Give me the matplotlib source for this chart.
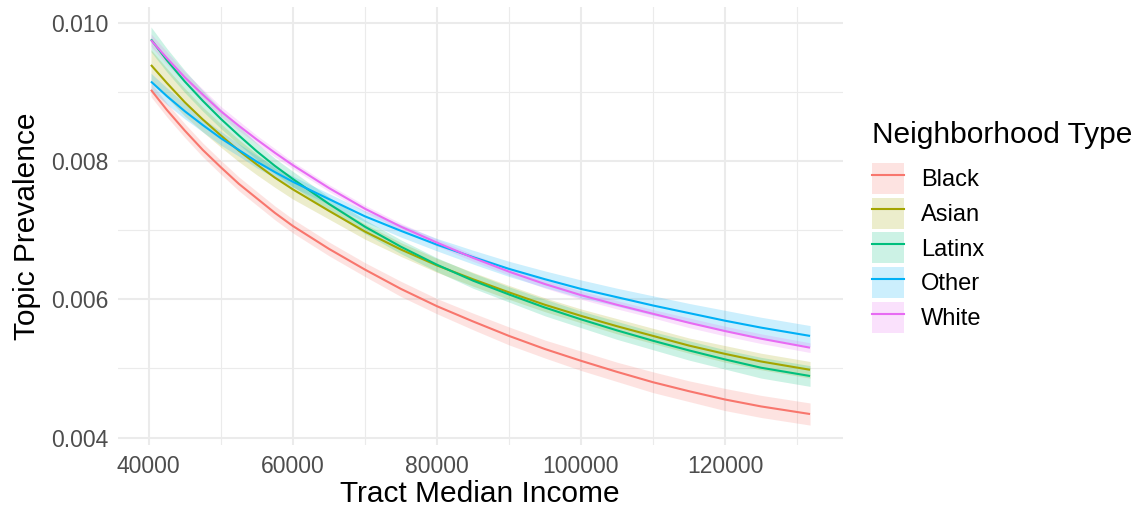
import numpy as np
import matplotlib
matplotlib.use('Agg')
import matplotlib.pyplot as plt
from matplotlib.patches import Patch
from matplotlib.lines import Line2D
from matplotlib.ticker import MultipleLocator, FormatStrFormatter

plt.rcParams['font.family'] = ['Liberation Sans', 'DejaVu Sans']

# predicted topic prevalence by tract median income
income = [40300, 42500, 45000, 47500, 50000, 52500, 55000, 57500, 60000, 65000, 70000, 75000,
          80000, 85000, 90000, 95000, 100000, 105000, 110000, 115000, 120000, 125000, 131800]

black = [0.00903, 0.00874, 0.00844, 0.00816, 0.00791, 0.00767, 0.00746, 0.00725, 0.00706, 0.00673,
         0.00643, 0.00615, 0.00590, 0.00568, 0.00547, 0.00528, 0.00511, 0.00495, 0.00480, 0.00467,
         0.00455, 0.00445, 0.00434]
asian = [0.00939, 0.00913, 0.00885, 0.00860, 0.00837, 0.00815, 0.00795, 0.00776, 0.00759, 0.00728,
         0.00698, 0.00672, 0.00649, 0.00629, 0.00610, 0.00592, 0.00576, 0.00561, 0.00547, 0.00533,
         0.00521, 0.00510, 0.00498]
latinx = [0.00976, 0.00946, 0.00915, 0.00887, 0.00861, 0.00837, 0.00814, 0.00793, 0.00774, 0.00738,
          0.00705, 0.00676, 0.00650, 0.00627, 0.00607, 0.00588, 0.00571, 0.00555, 0.00540, 0.00526,
          0.00513, 0.00501, 0.00489]
other = [0.00915, 0.00894, 0.00872, 0.00852, 0.00833, 0.00816, 0.00799, 0.00784, 0.00770, 0.00745,
         0.00720, 0.00699, 0.00679, 0.00661, 0.00644, 0.00629, 0.00615, 0.00603, 0.00591, 0.00580,
         0.00569, 0.00559, 0.00547]
white = [0.00975, 0.00949, 0.00921, 0.00896, 0.00872, 0.00851, 0.00831, 0.00812, 0.00794, 0.00761,
         0.00731, 0.00705, 0.00682, 0.00660, 0.00640, 0.00622, 0.00606, 0.00592, 0.00579, 0.00566,
         0.00554, 0.00543, 0.00530]

# half widths of the confidence bands
black_ci = [0.00010, 0.00010, 0.00010, 0.00010, 0.00010, 0.00010, 0.00010, 0.00010, 0.00010, 0.00010,
            0.00010, 0.00011, 0.00011, 0.00012, 0.00013, 0.00013, 0.00014, 0.00014, 0.00015, 0.00015,
            0.00016, 0.00016, 0.00016]
asian_ci = [0.00022, 0.00021, 0.00020, 0.00018, 0.00017, 0.00016, 0.00015, 0.00014, 0.00014, 0.00012,
            0.00011, 0.00010, 0.00010, 0.00010, 0.00010, 0.00010, 0.00010, 0.00011, 0.00011, 0.00011,
            0.00012, 0.00012, 0.00012]
latinx_ci = [0.00018, 0.00017, 0.00016, 0.00015, 0.00014, 0.00013, 0.00012, 0.00011, 0.00011, 0.00010,
             0.00010, 0.00010, 0.00010, 0.00011, 0.00011, 0.00012, 0.00012, 0.00013, 0.00013, 0.00014,
             0.00014, 0.00015, 0.00015]
other_ci = [0.00012, 0.00012, 0.00011, 0.00010, 0.00010, 0.00009, 0.00009, 0.00008, 0.00008, 0.00008,
            0.00008, 0.00009, 0.00009, 0.00010, 0.00011, 0.00012, 0.00013, 0.00013, 0.00014, 0.00014,
            0.00015, 0.00015, 0.00015]
white_ci = [0.00009, 0.00009, 0.00008, 0.00008, 0.00007, 0.00007, 0.00006, 0.00006, 0.00005, 0.00005,
            0.00005, 0.00005, 0.00005, 0.00005, 0.00005, 0.00006, 0.00006, 0.00006, 0.00006, 0.00007,
            0.00007, 0.00007, 0.00007]

groups = ['Black', 'Asian', 'Latinx', 'Other', 'White']
series = [black, asian, latinx, other, white]
bands = [black_ci, asian_ci, latinx_ci, other_ci, white_ci]
colors = ['#F8766D', '#A3A500', '#00BF7D', '#00B0F6', '#E76BF3']

W, H = 1139, 512
fig = plt.figure(figsize=(W / 100, H / 100), dpi=100)
ax = fig.add_axes([118 / W, 1 - 445 / H, (843 - 118) / W, (445 - 7) / H])

x = np.array(income)
lows, highs = [], []
for y, ci, col in zip(series, bands, colors):
    y, ci = np.array(y), np.array(ci)
    ax.fill_between(x, y - ci, y + ci, color=col, alpha=0.2, lw=0)
    lows.append((y - ci).min())
    highs.append((y + ci).max())
for y, col in zip(series, colors):
    ax.plot(x, y, color=col, lw=1.5, solid_capstyle='butt', solid_joinstyle='round')

# ggplot-style 5% padding
xr = x.max() - x.min()
ax.set_xlim(x.min() - 0.05 * xr, x.max() + 0.05 * xr)
ylo, yhi = min(lows), max(highs)
ax.set_ylim(ylo - 0.05 * (yhi - ylo), yhi + 0.05 * (yhi - ylo))

ax.xaxis.set_major_locator(MultipleLocator(20000))
ax.xaxis.set_minor_locator(MultipleLocator(10000))
ax.yaxis.set_major_locator(MultipleLocator(0.002))
ax.yaxis.set_minor_locator(MultipleLocator(0.001))
ax.xaxis.set_major_formatter(FormatStrFormatter('%d'))
ax.yaxis.set_major_formatter(FormatStrFormatter('%.3f'))

ax.set_axisbelow(True)
ax.grid(which='major', color='#EBEBEB', lw=1.5)
ax.grid(which='minor', color='#EBEBEB', lw=0.8)
for s in ax.spines.values():
    s.set_visible(False)
ax.tick_params(which='both', length=0, labelsize=16.5, labelcolor='#4D4D4D')
ax.tick_params(axis='y', pad=7)
ax.tick_params(axis='x', pad=7)

fig.text(27 / W, 1 - 226 / H, 'Topic Prevalence', rotation=90, ha='center', va='center', fontsize=21.5)
fig.text(480 / W, 1 - 494 / H, 'Tract Median Income', ha='center', va='center', fontsize=21.5)

# legend
fig.text(872 / W, 1 - 135 / H, 'Neighborhood Type', ha='left', va='center', fontsize=21.5)
handles = [(Patch(facecolor=c, alpha=0.2, lw=0), Line2D([], [], color=c, lw=1.5)) for c in colors]
fig.legend(handles, groups, loc='upper left', bbox_to_anchor=(872 / W, 1 - 163 / H),
           frameon=False, fontsize=17, borderpad=0, borderaxespad=0,
           handlelength=1.36, handleheight=1.64, labelspacing=0.16, handletextpad=0.7)

fig.savefig('out.png', dpi=100)
